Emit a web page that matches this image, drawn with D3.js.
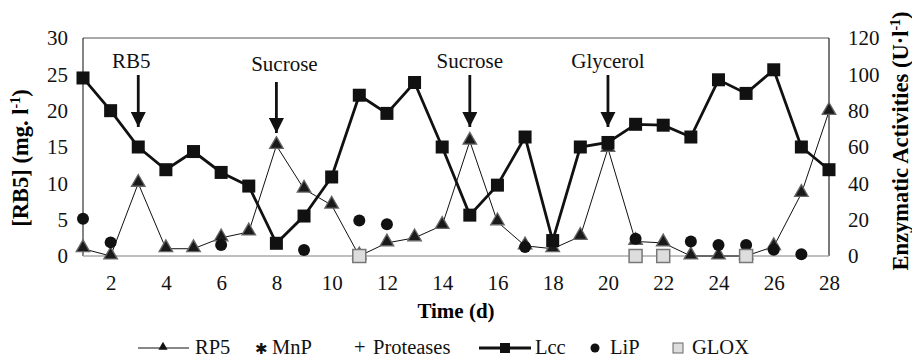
<!DOCTYPE html>
<html>
<head>
<meta charset="utf-8">
<script src="https://cdn.jsdelivr.net/npm/d3@7"></script>
<style>
  body { margin: 0; background: #fff; }
</style>
</head>
<body>
<svg id="chart" width="912" height="358" font-family="Liberation Serif"></svg>
<script>
var days = d3.range(1, 29);
var rp5 = [1, 0, 10, 1, 1, 2.5, 3.3, 15.2, 9.2, 7, 0, 1.8, 2.5, 4.2, 15.8, 4.7, 1.4, 1, 2.7, 14.8, 2, 1.8, 0, 0, 0, 1.3, 8.6, 19.9];
var lcc = [98, 80, 60, 47.5, 57.5, 46, 38.5, 7, 22, 43.5, 88.5, 78.5, 95.5, 60, 22.5, 39, 65.5, 8.5, 60, 62.5, 72.5, 72, 65.5, 97, 89.5, 102.5, 60, 47.5];
var lipDays = [1, 2, 6, 9, 11, 12, 17, 21, 23, 24, 25, 26, 27];
var lip = [20.5, 7.5, 6, 3.3, 19.5, 17.5, 5, 9.5, 8, 6, 6, 3.5, 1];
var gloxDays = [11, 21, 22, 25];
var glox = [0, 0, 0, 0];
var events = [
  { day: 3, label: "RB5" },
  { day: 8, label: "Sucrose" },
  { day: 15, label: "Sucrose" },
  { day: 20, label: "Glycerol" }
];
var xTicks = d3.range(2, 29, 2);
var yLeftTicks = [0, 5, 10, 15, 20, 25, 30];
var yRightTicks = [0, 20, 40, 60, 80, 100, 120];

var serif = "Liberation Serif";

var svg = d3.select("#chart"),
    margin = { top: 38, right: 83, bottom: 102, left: 83 },
    width = +svg.attr("width"),
    height = +svg.attr("height");

var x = d3.scaleLinear().domain([1, 28]).range([margin.left, width - margin.right]);
var yL = d3.scaleLinear().domain([0, 30]).range([height - margin.bottom, margin.top]);
var yR = d3.scaleLinear().domain([0, 120]).range([height - margin.bottom, margin.top]);

// frame
svg.append("line")
    .attr("x1", x(1)).attr("x2", x(28))
    .attr("y1", yL(30)).attr("y2", yL(30))
    .attr("stroke", "#555").attr("stroke-width", 1.2);
svg.append("line")
    .attr("x1", x(28)).attr("x2", x(28))
    .attr("y1", yL(30)).attr("y2", yL(0))
    .attr("stroke", "#222").attr("stroke-width", 1.2);
svg.append("line")
    .attr("x1", x(1)).attr("x2", x(1))
    .attr("y1", yL(30)).attr("y2", yL(0))
    .attr("stroke", "#333").attr("stroke-width", 1.2);
svg.append("line")
    .attr("x1", x(1)).attr("x2", x(28))
    .attr("y1", yL(0)).attr("y2", yL(0))
    .attr("stroke", "#aaa").attr("stroke-width", 1.5);

// axes (labels only)
var gx = svg.append("g")
    .attr("transform", "translate(0," + (height - margin.bottom) + ")")
    .call(d3.axisBottom(x).tickValues(xTicks).tickSize(0).tickPadding(19));
var gl = svg.append("g")
    .attr("transform", "translate(" + margin.left + ",0)")
    .call(d3.axisLeft(yL).tickValues(yLeftTicks).tickSize(0).tickPadding(15));
var gr = svg.append("g")
    .attr("transform", "translate(" + (width - margin.right) + ",0)")
    .call(d3.axisRight(yR).tickValues(yRightTicks).tickSize(0).tickPadding(19));
[gx, gl, gr].forEach(function (g) {
    g.select(".domain").remove();
    g.attr("font-family", serif).attr("font-size", 21);
    g.selectAll("text")
        .attr("font-family", serif)
        .attr("font-size", 21)
        .attr("fill", "#111");
});

// titles
svg.append("text")
    .attr("transform", "translate(28,158) rotate(-90)")
    .attr("text-anchor", "middle")
    .attr("font-family", serif).attr("font-size", 22.5).attr("font-weight", "bold")
    .html("[RB5] (mg. l<tspan dy='-8' font-size='14'>-1</tspan><tspan dy='8'>)</tspan>");
svg.append("text")
    .attr("transform", "translate(908,141) rotate(-90)")
    .attr("text-anchor", "middle")
    .attr("font-family", serif).attr("font-size", 22.5).attr("font-weight", "bold")
    .html("Enzymatic Activities (U·l<tspan dy='-8' font-size='14'>-1</tspan><tspan dy='8'>)</tspan>");
svg.append("text")
    .attr("x", x(14.5)).attr("y", 318)
    .attr("text-anchor", "middle")
    .attr("font-family", serif).attr("font-size", 21).attr("font-weight", "bold")
    .text("Time (d)");

// event arrows
svg.append("defs").append("marker")
    .attr("id", "arrow")
    .attr("viewBox", "0 0 10 10")
    .attr("refX", 10).attr("refY", 5)
    .attr("markerWidth", 5.4).attr("markerHeight", 5.4)
    .attr("markerUnits", "strokeWidth")
    .attr("orient", "auto")
    .append("path").attr("d", "M0,0 L10,5 L0,10 z").attr("fill", "#111");
var ev = svg.append("g").selectAll("g").data(events).enter().append("g");
ev.append("line")
    .attr("x1", function (d) { return x(d.day); })
    .attr("x2", function (d) { return x(d.day); })
    .attr("y1", function (d) { return d.day === 8 ? 82 : 75; })
    .attr("y2", function (d) { return d.day === 8 ? 133 : 127; })
    .attr("stroke", "#111").attr("stroke-width", 2.8)
    .attr("marker-end", "url(#arrow)");
ev.append("text")
    .attr("x", function (d) { return x(d.day) + (d.day === 3 ? -7 : d.day === 8 ? 8 : 0); })
    .attr("y", function (d) { return d.day === 8 ? 71 : 68; })
    .attr("text-anchor", "middle")
    .attr("font-family", serif).attr("font-size", 21)
    .attr("fill", "#111")
    .text(function (d) { return d.label; });

// RP5 line
var tri = d3.symbol().type(d3.symbolTriangle).size(80);
svg.append("path")
    .datum(rp5)
    .attr("fill", "none").attr("stroke", "#111").attr("stroke-width", 1)
    .attr("d", d3.line()
        .x(function (d, i) { return x(days[i]); })
        .y(function (d) { return yL(d); }));

// Lcc line
svg.append("path")
    .datum(lcc)
    .attr("fill", "none").attr("stroke", "#111").attr("stroke-width", 2.8)
    .attr("d", d3.line()
        .x(function (d, i) { return x(days[i]); })
        .y(function (d) { return yR(d); }));

// RP5 triangles
svg.append("g").selectAll("path").data(rp5).enter().append("path")
    .attr("d", tri)
    .attr("transform", function (d, i) { return "translate(" + x(days[i]) + "," + (yL(d) - 1) + ")"; })
    .attr("fill", "#1a1a1a").attr("stroke", "#666").attr("stroke-width", 1.3);

// Lcc squares
svg.append("g").selectAll("rect").data(lcc).enter().append("rect")
    .attr("x", function (d, i) { return x(days[i]) - 6.5; })
    .attr("y", function (d) { return yR(d) - 6.5; })
    .attr("width", 13).attr("height", 13)
    .attr("fill", "#111");

// LiP circles
svg.append("g").selectAll("circle").data(lip).enter().append("circle")
    .attr("cx", function (d, i) { return x(lipDays[i]); })
    .attr("cy", function (d) { return yR(d); })
    .attr("r", 6)
    .attr("fill", "#111");

// GLOX squares
svg.append("g").selectAll("rect").data(glox).enter().append("rect")
    .attr("x", function (d, i) { return x(gloxDays[i]) - 6.5; })
    .attr("y", function (d) { return yR(d) - 6.5; })
    .attr("width", 13).attr("height", 13)
    .attr("fill", "#ddd").attr("stroke", "#777").attr("stroke-width", 1.5);

// legend
var leg = svg.append("g").attr("fill", "#111");
var ly = 354;
function legText(xp, t, fs) {
    leg.append("text").attr("x", xp).attr("y", ly)
        .attr("font-family", serif).attr("font-size", fs || 20.5)
        .text(t);
}
leg.append("line").attr("x1", 138).attr("x2", 189).attr("y1", ly - 6).attr("y2", ly - 6)
    .attr("stroke", "#111").attr("stroke-width", 1);
leg.append("path").attr("d", d3.symbol().type(d3.symbolTriangle).size(36))
    .attr("transform", "translate(163," + (ly - 7) + ")").attr("fill", "#111");
legText(195, "RP5");
legText(255, "✱", 15);
legText(272, "MnP");
legText(354, "+");
legText(373, "Proteases");
leg.append("line").attr("x1", 479).attr("x2", 531).attr("y1", ly - 6).attr("y2", ly - 6)
    .attr("stroke", "#111").attr("stroke-width", 2.8);
leg.append("rect").attr("x", 500).attr("y", ly - 11).attr("width", 10).attr("height", 10).attr("fill", "#111");
legText(535, "Lcc");
leg.append("circle").attr("cx", 595).attr("cy", ly - 6).attr("r", 4.5).attr("fill", "#111");
legText(610, "LiP");
leg.append("rect").attr("x", 673).attr("y", ly - 11).attr("width", 10).attr("height", 10)
    .attr("fill", "#ddd").attr("stroke", "#666").attr("stroke-width", 1);
legText(692, "GLOX");
</script>
</body>
</html>
